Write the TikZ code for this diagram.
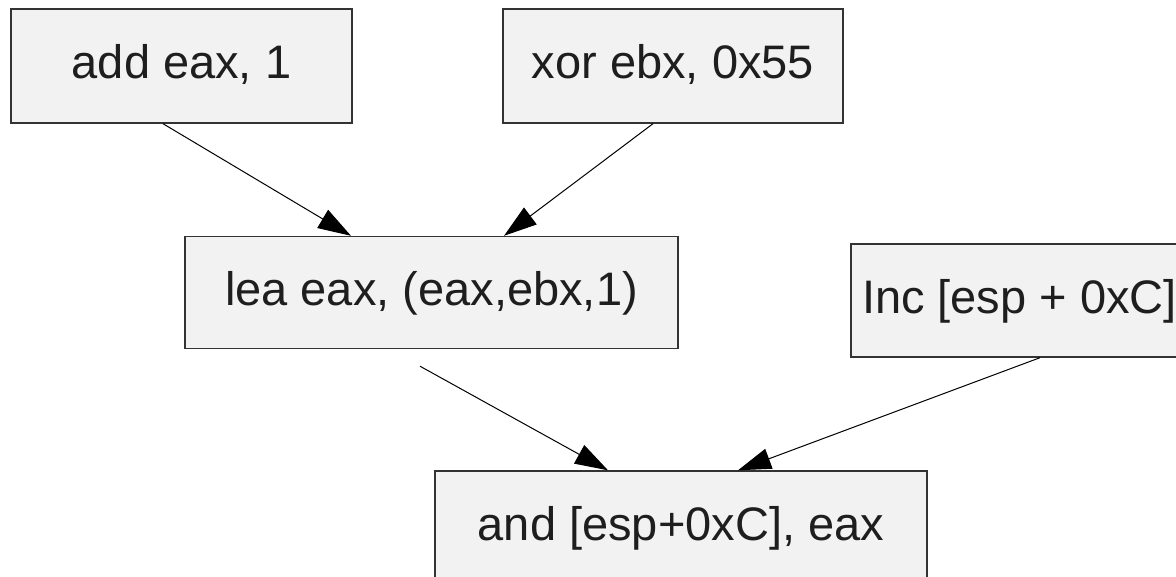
\documentclass[tikz,border=0pt]{standalone}
\usepackage{fontspec}
\setmainfont{Liberation Sans}
\usetikzlibrary{arrows.meta}
\definecolor{boxfill}{HTML}{F2F2F2}
\definecolor{boxline}{HTML}{333333}
\definecolor{txt}{HTML}{1E1E1E}
\tikzset{
  instr/.style={draw=boxline, line width=1.4pt, fill=boxfill, text=txt,
    font=\fontsize{47}{56}\selectfont, inner sep=0pt,
    text height=34pt, text depth=8pt},
  flow/.style={draw=black, line width=1pt,
    -{Triangle[length=33pt,width=21pt]}},
}
\begin{document}
\begin{tikzpicture}[x=1pt,y=-1pt]
  \clip (0,0) rectangle (1176,577);
  \fill[white] (0,0) rectangle (1176,577);

  % instruction boxes
  \node[instr, minimum width=341pt, minimum height=114pt] (add) at (181.5,66) {add eax, 1};
  \node[instr, minimum width=340pt, minimum height=114pt] (xor) at (673,66) {xor ebx, 0x55};
  \node[instr, minimum width=493pt, minimum height=112pt] (lea) at (431.5,292.5) {lea eax, (eax,ebx,1)};
  \node[instr, minimum width=340pt, minimum height=113pt, inner xsep=11pt]
        (inc) at (1021,300.5) {\makebox[318pt][l]{Inc [esp + 0xC]}};
  \node[instr, minimum width=492pt, minimum height=112pt] (and) at (681,527) {and [esp+0xC], eax};

  % data dependencies
  \draw[flow] ([xshift=-18.5pt]add.south) -- ([xshift=-80.5pt]lea.north);
  \draw[flow] ([xshift=-20pt]xor.south) -- ([xshift=72.5pt]lea.north);
  \draw[flow] ([xshift=-11.5pt,yshift=-17pt]lea.south) -- ([xshift=-73pt]and.north);
  \draw[flow] ([xshift=19pt]inc.south) -- ([xshift=57pt]and.north);
\end{tikzpicture}
\end{document}
